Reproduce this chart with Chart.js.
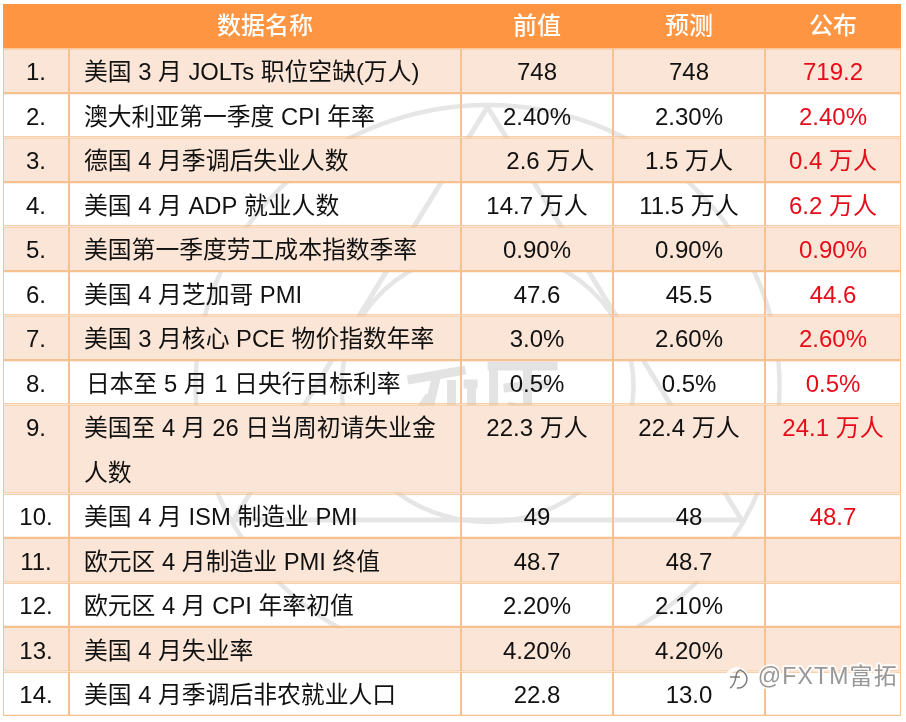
<!DOCTYPE html>
<html lang="zh">
<head>
<meta charset="utf-8">
<title>数据名称</title>
<style>html,body{margin:0;padding:0;background:#fff}canvas{display:block}</style>
<script src="https://cdn.jsdelivr.net/npm/chart.js@4"></script>
</head>
<body>
<canvas id="c" width="906" height="722"></canvas>
<script>
// Row keys: 16 equal-height grid rows; item 9 takes two of them.
const rowKeys = ['head','1','2','3','4','5','6','7','8','9','9b','10','11','12','13','14'];
const rowNumbers = ['','1.','2.','3.','4.','5.','6.','7.','8.','9.','','10.','11.','12.','13.','14.'];
const dataNames = ['数据名称','美国 3 月 JOLTs 职位空缺(万人)','澳大利亚第一季度 CPI 年率','德国 4 月季调后失业人数','美国 4 月 ADP 就业人数','美国第一季度劳工成本指数季率','美国 4 月芝加哥 PMI','美国 3 月核心 PCE 物价指数年率','\u200a日本至 5 月 1 日央行目标利率','美国至 4 月 26 日当周初请失业金','人数','美国 4 月 ISM 制造业 PMI','欧元区 4 月制造业 PMI 终值','欧元区 4 月 CPI 年率初值','美国 4 月失业率','美国 4 月季调后非农就业人口'];
const previousValues = ['前值','748','2.40%','    2.6 万人','14.7 万人','0.90%','47.6','3.0%','0.5%','22.3 万人','','49','48.7','2.20%','4.20%','22.8'];
const forecastValues = ['预测','748','2.30%','1.5 万人','11.5 万人','0.90%','45.5','2.60%','0.5%','22.4 万人','','48','48.7','2.10%','4.20%','13.0'];
const publishedValues = ['公布','719.2','2.40%','0.4 万人','6.2 万人','0.90%','44.6','2.60%','0.5%','24.1 万人','','48.7','','','',''];
const columnTexts = [rowNumbers, dataNames, previousValues, forecastValues, publishedValues];
const columnSpans = [66, 392, 152, 152, 136];

const HEAD = '#FD9542', TINT = '#FBE5D6', LINE = '#F6C08F', RED = '#E60D1B', INK = '#111111', MARK = '#E6E6E6';
const FONT = '"Liberation Sans","Noto Sans CJK SC",sans-serif';

const isTint = i => ['1','3','5','7','9','9b','11','13'].includes(rowKeys[i]);

const watermark = {
  id: 'watermark',
  beforeDatasetsDraw(chart) {
    const c = chart.ctx, a = chart.chartArea;
    const cx = a.left + a.width * 0.5396, cy = a.top + a.height * 0.5365;
    const u = a.height / 712;
    c.save();
    c.beginPath(); c.rect(a.left, a.top, a.width, a.height); c.clip();
    c.strokeStyle = MARK; c.lineWidth = 4.5 * u;
    [[292, 281], [146, 136]].forEach(r => { c.beginPath(); c.ellipse(cx, cy, r[0] * u, r[1] * u, 0, 0, Math.PI * 2); c.stroke(); });
    c.lineWidth = 5 * u; c.lineJoin = 'miter';
    c.beginPath();
    c.moveTo(cx, cy - 279 * u);
    c.lineTo(cx + 254 * u, cy + 134 * u);
    c.lineTo(cx - 254 * u, cy + 134 * u);
    c.closePath(); c.stroke();
    // central seal strokes
    c.strokeStyle = '#E3E3E3'; c.lineWidth = 9 * u; c.lineCap = 'butt';
    [[-80,-6,-22,-16],[-50,-14,-62,36],[-58,10,-74,34],[-36,-6,-36,36],[-24,-2,-10,-2],[-16,-2,-16,36],
     [0,-20,70,-20],[6,-20,6,36],[16,2,62,-2],[40,-20,40,36],[20,20,66,30]].forEach(s => {
      c.beginPath();
      c.moveTo(cx + s[0] * u, cy + s[1] * u);
      c.lineTo(cx + s[2] * u, cy + s[3] * u);
      c.stroke();
    });
    c.restore();
  }
};

const cellText = {
  id: 'cellText',
  afterDatasetsDraw(chart) {
    const c = chart.ctx;
    c.save();
    c.textBaseline = 'middle';
    columnTexts.forEach((texts, col) => {
      const bars = chart.getDatasetMeta(col).data;
      texts.forEach((t, i) => {
        if (!t) return;
        const b = bars[i].getProps(['x', 'y', 'base'], true);
        const left = Math.min(b.x, b.base), right = Math.max(b.x, b.base);
        const isHead = i === 0;
        c.font = (isHead ? '500 24px ' : (col === 1 ? '23.8px ' : '24px ')) + FONT;
        c.fillStyle = isHead ? '#FFFFFF' : (col === 4 ? RED : INK);
        const y = b.y + (isHead ? 1.5 : 3);
        if (col === 1 && !isHead) { c.textAlign = 'left'; c.fillText(t, left + 15, y); }
        else { c.textAlign = 'center'; c.fillText(t, (left + right) / 2, y); }
      });
    });
    c.restore();
  }
};

const signature = {
  id: 'signature',
  afterDraw(chart) {
    const c = chart.ctx, a = chart.chartArea;
    const x = a.right - 3, y = a.bottom - 38;
    c.save();
    c.font = '23px ' + FONT;
    c.letterSpacing = '1.2px';
    c.textAlign = 'right'; c.textBaseline = 'middle';
    c.lineJoin = 'round'; c.lineWidth = 4; c.strokeStyle = 'rgba(255,255,255,0.8)';
    c.strokeText('@FXTM富拓', x, y);
    c.fillStyle = 'rgba(140,140,140,0.9)';
    c.fillText('@FXTM富拓', x, y);
    const ix = x - 161, iy = y + 1;
    c.strokeStyle = 'rgba(255,255,255,0.85)'; c.lineWidth = 4;
    c.beginPath(); c.arc(ix, iy, 10, 0, Math.PI * 2); c.stroke();
    c.strokeStyle = 'rgba(110,110,110,0.9)'; c.lineWidth = 1.5;
    c.beginPath(); c.arc(ix + 1, iy, 9, -1.3, 1.7); c.stroke();
    c.beginPath(); c.moveTo(ix - 7, iy + 9); c.quadraticCurveTo(ix - 2, iy + 6, ix - 1, iy - 3); c.quadraticCurveTo(ix, iy - 9, ix + 4, iy - 9); c.stroke();
    c.beginPath(); c.moveTo(ix - 7, iy - 2); c.lineTo(ix + 3, iy - 2); c.stroke();
    c.restore();
  }
};

const borderFor = i => {
  const key = rowKeys[i];
  const side = 1, edge = 1.3;
  if (i === 0) return 0;
  return { left: side, right: side, top: key === '9b' ? 0 : edge, bottom: key === '9' ? 0 : edge };
};

new Chart(document.getElementById('c'), {
  type: 'bar',
  plugins: [watermark, cellText, signature],
  data: {
    labels: rowKeys,
    datasets: columnSpans.map((span, col) => ({
      label: dataNames[0] + col,
      data: rowKeys.map(() => span),
      backgroundColor: rowKeys.map((k, i) => i === 0 ? HEAD : (isTint(i) ? TINT : 'rgba(255,255,255,0)')),
      borderColor: rowKeys.map((k, i) => i === 0 ? HEAD : LINE),
      borderWidth: rowKeys.map((k, i) => borderFor(i)),
      borderSkipped: false,
      inflateAmount: 0,
      barPercentage: 1,
      categoryPercentage: 1
    }))
  },
  options: {
    indexAxis: 'y',
    responsive: false,
    animation: false,
    devicePixelRatio: 1,
    layout: { padding: { left: 3, right: 5, top: 4, bottom: 6 } },
    plugins: { legend: { display: false }, tooltip: { enabled: false }, title: { display: false } },
    scales: {
      x: { type: 'linear', stacked: true, display: false, min: 0, max: columnSpans.reduce((s, v) => s + v, 0), grid: { display: false } },
      y: { type: 'category', stacked: true, display: false, grid: { display: false } }
    }
  }
});
</script>
</body>
</html>
